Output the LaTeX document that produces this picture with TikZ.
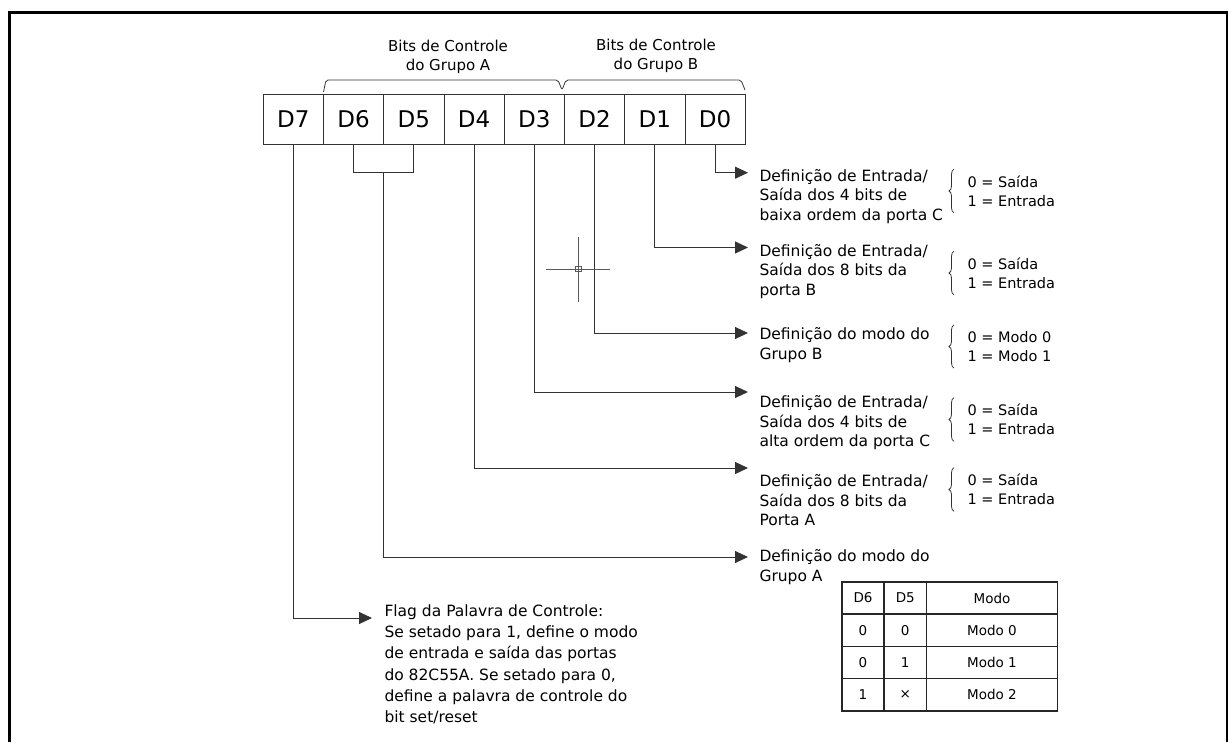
\documentclass[tikz,border=0pt]{standalone}
\usepackage{fontspec}
\setmainfont{DejaVu Sans}
\usetikzlibrary{positioning,arrows.meta,decorations.pathreplacing,calc}

\begin{document}
\begin{tikzpicture}[x=1pt,y=-1pt,line width=1pt,draw=black!80,
    >={Triangle[length=13pt,width=12pt]}]
    \tikzstyle{bit}=[draw=black!80, minimum width=60.25pt, minimum height=50pt, inner sep=0pt, outer sep=0pt, font=\fontsize{23}{23}\selectfont]
    \tikzstyle{desc}=[align=left, inner sep=0pt, font=\fontsize{15.5}{19.5}\selectfont]
    \tikzstyle{flag}=[align=left, inner sep=0pt, font=\fontsize{15.5}{21.3}\selectfont]
    \tikzstyle{opts}=[align=left, inner sep=0pt, font=\fontsize{14.5}{19}\selectfont]
    \tikzstyle{head}=[align=center, inner sep=0pt, font=\fontsize{15}{19}\selectfont]
    \tikzstyle{brc}=[draw=black!80, line width=0.8pt, decorate, decoration={brace, amplitude=5pt}]
    \tikzstyle{cell}=[draw=black!85, line width=1.3pt, minimum height=32.25pt, inner sep=0pt, outer sep=0pt, font=\fontsize{13.5}{13.5}\selectfont]
    \tikzstyle{wire}=[->]

    \useasboundingbox (0,0) rectangle (1228,742);
    % Frame
    \draw[black, line width=3pt] (9,742) -- (9,12) -- (1226,12);
    \draw[black, line width=2pt] (1226.7,10.5) -- (1226.7,742);

    % Control word bits
    \node[bit] (b7) at (293.4,119) {D7};
    \node[bit, right=0pt of b7] (b6) {D6};
    \node[bit, right=0pt of b6] (b5) {D5};
    \node[bit, right=0pt of b5] (b4) {D4};
    \node[bit, right=0pt of b4] (b3) {D3};
    \node[bit, right=0pt of b3] (b2) {D2};
    \node[bit, right=0pt of b2] (b1) {D1};
    \node[bit, right=0pt of b1] (b0) {D0};

    % Group brackets and headers
    \draw[line width=0.8pt, rounded corners=2pt] (323.5,92) -- (326,80) -- (558,80) -- (562,90)
        -- (566,80) -- (741,80) -- (745,90);
    \node[head] (hA) at (448,57) {Bits de Controle\\do Grupo A};
    \node[head] (hB) at (656,56) {Bits de Controle\\do Grupo B};

    % Arrow ends
    \coordinate (e0) at (748,172.7);
    \coordinate (e1) at (748,247.5);
    \coordinate (e2) at (748,333);
    \coordinate (e3) at (748,392);
    \coordinate (e4) at (748,468);
    \coordinate (e65) at (748,557);
    \coordinate (e7) at (372,618);

    % Descriptions
    \node[desc, below right=-4pt and 11pt of e0] (t0) {Definição de Entrada/\\Saída dos 4 bits de\\baixa ordem da porta C};
    \node[desc, below right=-4pt and 11pt of e1] (t1) {Definição de Entrada/\\Saída dos 8 bits da\\porta B};
    \node[desc, below right=-6pt and 11pt of e2] (t2) {Definição do modo do\\Grupo B};
    \node[desc, below right=3pt and 11pt of e3] (t3) {Definição de Entrada/\\Saída dos 4 bits de\\alta ordem da porta C};
    \node[desc, below right=6pt and 11pt of e4] (t4) {Definição de Entrada/\\Saída dos 8 bits da\\Porta A};
    \node[desc, below right=-8pt and 11pt of e65] (t65) {Definição do modo do\\Grupo A};
    \node[flag, below right=-14pt and 12pt of e7] (t7) {Flag da Palavra de Controle:\\Se setado para 1, define o modo\\de entrada e saída das portas\\do 82C55A. Se setado para 0,\\define a palavra de controle do\\bit set/reset};

    % Options
    \node[opts, anchor=west] (o0) at (967,191) {0 = Saída\\1 = Entrada};
    \node[opts, anchor=west] (o1) at (967,273) {0 = Saída\\1 = Entrada};
    \node[opts, anchor=west] (o2) at (967,346.5) {0 = Modo 0\\1 = Modo 1};
    \node[opts, anchor=west] (o3) at (967,419.5) {0 = Saída\\1 = Entrada};
    \node[opts, anchor=west] (o4) at (967,489.5) {0 = Saída\\1 = Entrada};
    \foreach \o in {0,1,2,3,4}
        \draw[brc] ([xshift=-13pt,yshift=-6pt]o\o.south west) -- ([xshift=-13pt,yshift=6pt]o\o.north west);

    % Connections
    \draw[wire] (b0.south) |- (e0);
    \draw[wire] (b1.south) |- (e1);
    \draw[wire] (b2.south) |- (e2);
    \draw[wire] (b3.south) |- (e3);
    \draw[wire] (b4.south) |- (e4);
    \draw (b6.south) -- ++(0,28.7) -| (b5.south);
    \coordinate (m65) at ($(b6.south)!.5!(b5.south) + (0,28.7)$);
    \draw[wire] (m65) |- (e65);
    \draw[wire] (b7.south) |- (e7);

    % Mode table for group A
    \foreach \a/\b/\c [count=\r] in {D6/D5/Modo, 0/0/Modo 0, 0/1/Modo 1, 1/×/Modo 2} {
        \node[cell, minimum width=42pt] (c\r1) at (863,{565.75+32.25*\r}) {\a};
        \node[cell, minimum width=42.5pt, right=0pt of c\r1] (c\r2) {\b};
        \node[cell, minimum width=131pt, right=0pt of c\r2] (c\r3) {\c};
    }

    % Cursor
    \draw[black!65] (546,269) -- (610,269) (578.3,237) -- (578.3,302);
    \draw[black!65, line width=0.8pt] (575.5,266.2) rectangle (581.1,271.8);
\end{tikzpicture}
\end{document}
